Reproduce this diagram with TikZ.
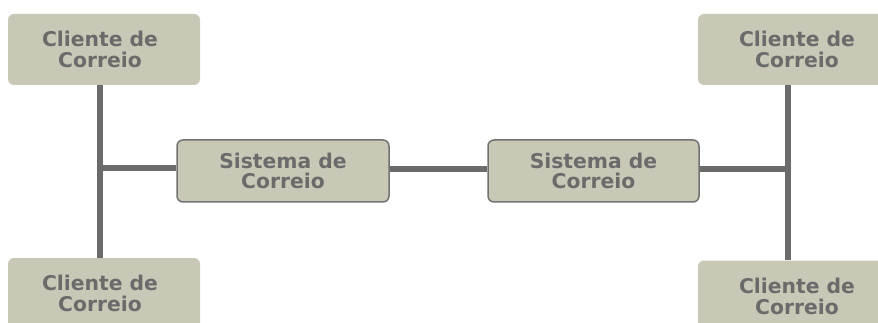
\documentclass[tikz,border=0pt]{standalone}
\usepackage{fontspec}
\setmainfont{DejaVu Sans}
\definecolor{boxfill}{HTML}{C9C7B6}
\definecolor{ink}{HTML}{6B6B6B}
\definecolor{edge}{HTML}{727272}
\newcommand{\lefttext}[2]{\raisebox{-3pt}[\height][\depth]{\begin{tabular}{@{}c@{\hspace{#1}}}#2\end{tabular}}}
\tikzset{
  every node/.style={font=\bfseries\fontsize{20.3pt}{20pt}\selectfont, text=ink, align=center, inner sep=0pt},
  client/.style={fill=boxfill, rounded corners=6pt, minimum height=71pt},
  sysbox/.style={fill=boxfill, draw=edge, line width=1.5pt, rounded corners=6pt, minimum width=212pt, minimum height=62pt},
  link/.style={draw=ink, line width=5.8pt}
}
\begin{document}
\begin{tikzpicture}[x=1pt,y=-1pt]
\useasboundingbox (0,0) rectangle (878,323);
\clip (0,0) rectangle (878,323);
% clients
\node[client, minimum width=192pt] (c1) at (104,49.5) {\lefttext{8pt}{Cliente de\\Correio}};
\node[client, minimum width=192pt] (c2) at (104,293.5) {\lefttext{8pt}{Cliente de\\Correio}};
\node[client, minimum width=200pt] (c3) at (798,49.5) {\lefttext{2pt}{Cliente de\\Correio}};
\node[client, minimum width=200pt] (c4) at (798,296) {\lefttext{2pt}{Cliente de\\Correio}};
% systems
\node[sysbox] (s1) at (283,171) {Sistema de\\Correio};
\node[sysbox, minimum width=211pt] (s2) at (593.5,171) {Sistema de\\Correio};
% junctions
\coordinate (jl) at (100,168);
\coordinate (jr) at (788,169);
% connectors
\draw[link] (c1.south -| jl) -- (c2.north -| jl);
\draw[link] (jl) -- (jl -| s1.west);
\draw[link] (s1.east |- 0,169) -- (s2.west |- 0,169);
\draw[link] (s2.east |- jr) -- (jr);
\draw[link] (c3.south -| jr) -- (c4.north -| jr);
\end{tikzpicture}
\end{document}
